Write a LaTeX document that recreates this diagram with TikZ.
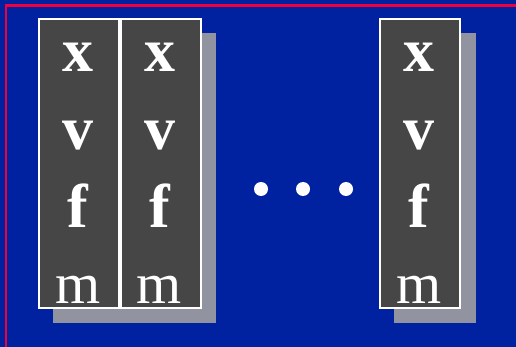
\documentclass[tikz,border=0pt]{standalone}
\usepackage{fontspec}
\setmainfont{Liberation Serif}
\definecolor{bgblue}{RGB}{0,34,160}
\definecolor{boxgray}{RGB}{70,70,70}
\definecolor{shadowgray}{RGB}{145,147,160}
\definecolor{framered}{RGB}{240,0,60}
\begin{document}
\begin{tikzpicture}[x=1pt,y=-1pt,
  cellbox/.style={fill=boxgray,draw=white,line width=2pt,minimum width=80pt,minimum height=289pt,inner sep=0pt,anchor=north west},
  boldletter/.style={text=white,font=\fontsize{62}{62}\selectfont\bfseries,inner sep=0pt,anchor=base},
  plainletter/.style={text=white,font=\fontsize{58}{58}\selectfont,inner sep=0pt,anchor=base},
  dot/.style={circle,fill=white,inner sep=0pt,minimum size=14pt}]
\useasboundingbox (0,0) rectangle (516,347);
\fill[bgblue] (0,0) rectangle (516,347);
\draw[framered,line width=2.5pt] (6,360) -- (6,5.5) -- (530,5.5);
% shadows
\fill[shadowgray] (53,33) rectangle (216,323);
\fill[shadowgray] (394,33) rectangle (476,323);
% boxes
\node[cellbox] (b1) at (38,18) {};
\node[cellbox] (b2) at (119.5,18) {};
\node[cellbox] (b3) at (379,18) {};
% letters
\foreach \b/\cx in {1/78,2/159.5,3/419}{
  \node[boldletter] (x\b) at (\cx,72) {x};
  \node[boldletter] (v\b) at (\cx,150) {v};
  \node[boldletter] (f\b) at (\cx,227) {f};
  \node[plainletter] (m\b) at (\cx,303) {m};
}
% dots
\node[dot] (d1) at (261,189) {};
\node[dot] (d2) at (303,189) {};
\node[dot] (d3) at (346,189) {};
\end{tikzpicture}
\end{document}
